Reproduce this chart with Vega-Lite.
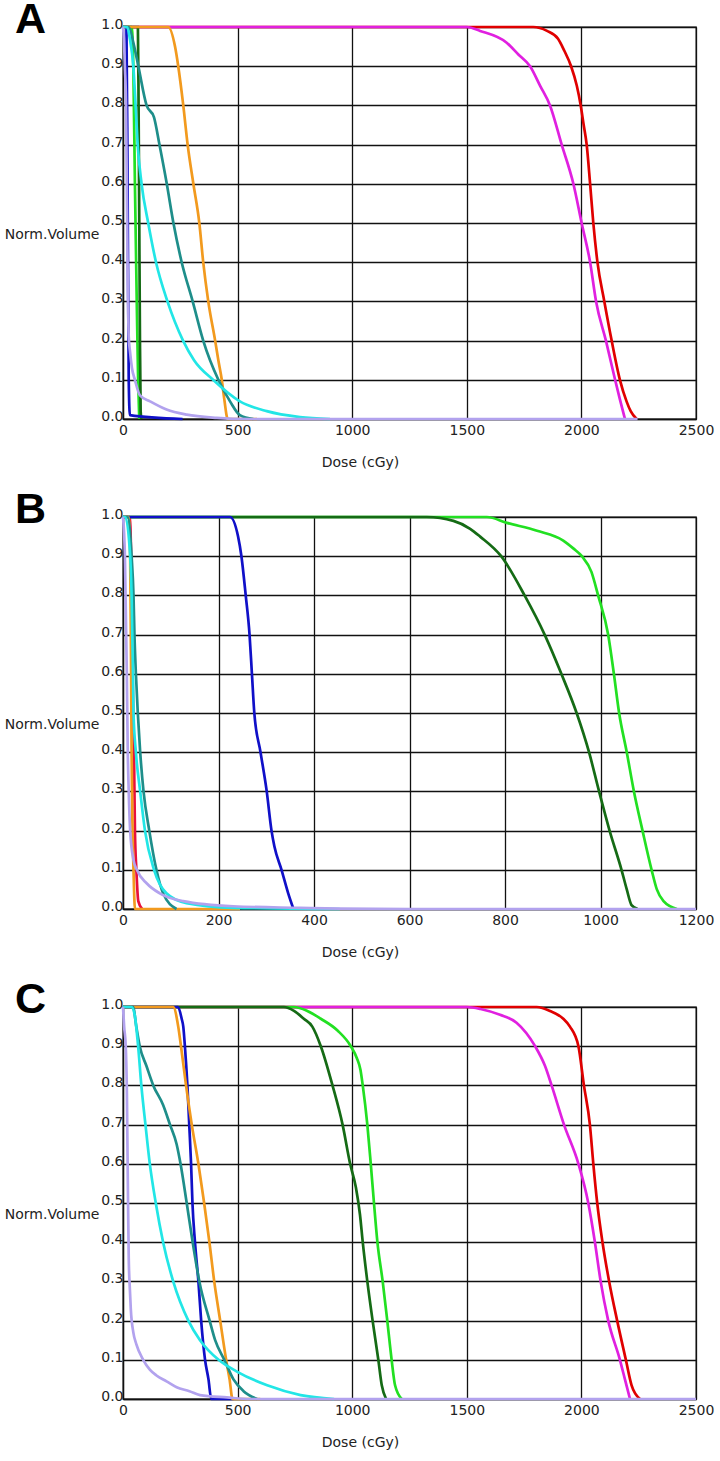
{
  "$schema": "https://vega.github.io/schema/vega-lite/v6.json",
  "background": "white",
  "padding": {"left": 3, "top": -3, "right": 4, "bottom": 4},
  "datasets": {
    "dvh": [
      {"panel":"A","structure":"red","dose":0,"volume":1},{"panel":"A","structure":"red","dose":1790,"volume":1},{"panel":"A","structure":"red","dose":1850,"volume":0.99},{"panel":"A","structure":"red","dose":1898,"volume":0.97},{"panel":"A","structure":"red","dose":1925,"volume":0.94},{"panel":"A","structure":"red","dose":1955,"volume":0.9},{"panel":"A","structure":"red","dose":1980,"volume":0.85},{"panel":"A","structure":"red","dose":1997,"volume":0.8},{"panel":"A","structure":"red","dose":2010,"volume":0.75},{"panel":"A","structure":"red","dose":2023,"volume":0.7},{"panel":"A","structure":"red","dose":2038,"volume":0.6},{"panel":"A","structure":"red","dose":2052,"volume":0.5},{"panel":"A","structure":"red","dose":2070,"volume":0.4},{"panel":"A","structure":"red","dose":2100,"volume":0.3},{"panel":"A","structure":"red","dose":2132,"volume":0.2},{"panel":"A","structure":"red","dose":2168,"volume":0.1},{"panel":"A","structure":"red","dose":2197,"volume":0.045},{"panel":"A","structure":"red","dose":2215,"volume":0.02},{"panel":"A","structure":"red","dose":2241,"volume":0},
      {"panel":"A","structure":"magenta","dose":0,"volume":1},{"panel":"A","structure":"magenta","dose":1500,"volume":1},{"panel":"A","structure":"magenta","dose":1558,"volume":0.99},{"panel":"A","structure":"magenta","dose":1674,"volume":0.96},{"panel":"A","structure":"magenta","dose":1725,"volume":0.93},{"panel":"A","structure":"magenta","dose":1776,"volume":0.9},{"panel":"A","structure":"magenta","dose":1820,"volume":0.85},{"panel":"A","structure":"magenta","dose":1863,"volume":0.8},{"panel":"A","structure":"magenta","dose":1914,"volume":0.7},{"panel":"A","structure":"magenta","dose":1965,"volume":0.6},{"panel":"A","structure":"magenta","dose":2001,"volume":0.5},{"panel":"A","structure":"magenta","dose":2038,"volume":0.4},{"panel":"A","structure":"magenta","dose":2064,"volume":0.3},{"panel":"A","structure":"magenta","dose":2107,"volume":0.2},{"panel":"A","structure":"magenta","dose":2147,"volume":0.1},{"panel":"A","structure":"magenta","dose":2168,"volume":0.05},{"panel":"A","structure":"magenta","dose":2190,"volume":0},
      {"panel":"A","structure":"lightgreen","dose":0,"volume":1},{"panel":"A","structure":"lightgreen","dose":38,"volume":1},{"panel":"A","structure":"lightgreen","dose":45,"volume":0.9},{"panel":"A","structure":"lightgreen","dose":52,"volume":0.6},{"panel":"A","structure":"lightgreen","dose":60,"volume":0.3},{"panel":"A","structure":"lightgreen","dose":66,"volume":0.1},{"panel":"A","structure":"lightgreen","dose":71,"volume":0},
      {"panel":"A","structure":"darkgreen","dose":0,"volume":1},{"panel":"A","structure":"darkgreen","dose":65,"volume":1},{"panel":"A","structure":"darkgreen","dose":68,"volume":0.8},{"panel":"A","structure":"darkgreen","dose":71,"volume":0.5},{"panel":"A","structure":"darkgreen","dose":74,"volume":0.2},{"panel":"A","structure":"darkgreen","dose":77,"volume":0.02},{"panel":"A","structure":"darkgreen","dose":80,"volume":0},
      {"panel":"A","structure":"blue","dose":0,"volume":1},{"panel":"A","structure":"blue","dose":15,"volume":1},{"panel":"A","structure":"blue","dose":20,"volume":0.6},{"panel":"A","structure":"blue","dose":25,"volume":0.1},{"panel":"A","structure":"blue","dose":30,"volume":0.01},{"panel":"A","structure":"blue","dose":260,"volume":0},
      {"panel":"A","structure":"orange","dose":0,"volume":1},{"panel":"A","structure":"orange","dose":197,"volume":1},{"panel":"A","structure":"orange","dose":227,"volume":0.95},{"panel":"A","structure":"orange","dose":241,"volume":0.9},{"panel":"A","structure":"orange","dose":263,"volume":0.8},{"panel":"A","structure":"orange","dose":282,"volume":0.7},{"panel":"A","structure":"orange","dose":307,"volume":0.6},{"panel":"A","structure":"orange","dose":333,"volume":0.5},{"panel":"A","structure":"orange","dose":350,"volume":0.4},{"panel":"A","structure":"orange","dose":372,"volume":0.3},{"panel":"A","structure":"orange","dose":402,"volume":0.2},{"panel":"A","structure":"orange","dose":416,"volume":0.15},{"panel":"A","structure":"orange","dose":431,"volume":0.1},{"panel":"A","structure":"orange","dose":442,"volume":0.05},{"panel":"A","structure":"orange","dose":457,"volume":0},{"panel":"A","structure":"orange","dose":585,"volume":0},
      {"panel":"A","structure":"teal","dose":0,"volume":1},{"panel":"A","structure":"teal","dose":25,"volume":1},{"panel":"A","structure":"teal","dose":45,"volume":0.96},{"panel":"A","structure":"teal","dose":67,"volume":0.9},{"panel":"A","structure":"teal","dose":103,"volume":0.8},{"panel":"A","structure":"teal","dose":135,"volume":0.77},{"panel":"A","structure":"teal","dose":159,"volume":0.7},{"panel":"A","structure":"teal","dose":191,"volume":0.6},{"panel":"A","structure":"teal","dose":220,"volume":0.5},{"panel":"A","structure":"teal","dose":256,"volume":0.4},{"panel":"A","structure":"teal","dose":304,"volume":0.3},{"panel":"A","structure":"teal","dose":350,"volume":0.2},{"panel":"A","structure":"teal","dose":416,"volume":0.1},{"panel":"A","structure":"teal","dose":467,"volume":0.045},{"panel":"A","structure":"teal","dose":510,"volume":0.01},{"panel":"A","structure":"teal","dose":569,"volume":0},
      {"panel":"A","structure":"cyan","dose":0,"volume":1},{"panel":"A","structure":"cyan","dose":18,"volume":1},{"panel":"A","structure":"cyan","dose":30,"volume":0.97},{"panel":"A","structure":"cyan","dose":45,"volume":0.9},{"panel":"A","structure":"cyan","dose":55,"volume":0.8},{"panel":"A","structure":"cyan","dose":64,"volume":0.7},{"panel":"A","structure":"cyan","dose":81,"volume":0.6},{"panel":"A","structure":"cyan","dose":110,"volume":0.5},{"panel":"A","structure":"cyan","dose":144,"volume":0.4},{"panel":"A","structure":"cyan","dose":194,"volume":0.3},{"panel":"A","structure":"cyan","dose":262,"volume":0.2},{"panel":"A","structure":"cyan","dose":310,"volume":0.15},{"panel":"A","structure":"cyan","dose":393,"volume":0.1},{"panel":"A","structure":"cyan","dose":510,"volume":0.045},{"panel":"A","structure":"cyan","dose":627,"volume":0.02},{"panel":"A","structure":"cyan","dose":772,"volume":0.005},{"panel":"A","structure":"cyan","dose":903,"volume":0},
      {"panel":"A","structure":"lavender","dose":0,"volume":1},{"panel":"A","structure":"lavender","dose":4,"volume":0.97},{"panel":"A","structure":"lavender","dose":8,"volume":0.9},{"panel":"A","structure":"lavender","dose":13,"volume":0.81},{"panel":"A","structure":"lavender","dose":16,"volume":0.64},{"panel":"A","structure":"lavender","dose":20,"volume":0.39},{"panel":"A","structure":"lavender","dose":25,"volume":0.21},{"panel":"A","structure":"lavender","dose":31,"volume":0.17},{"panel":"A","structure":"lavender","dose":39,"volume":0.13},{"panel":"A","structure":"lavender","dose":52,"volume":0.1},{"panel":"A","structure":"lavender","dose":74,"volume":0.06},{"panel":"A","structure":"lavender","dose":118,"volume":0.045},{"panel":"A","structure":"lavender","dose":190,"volume":0.024},{"panel":"A","structure":"lavender","dose":278,"volume":0.011},{"panel":"A","structure":"lavender","dose":409,"volume":0.003},{"panel":"A","structure":"lavender","dose":550,"volume":0},{"panel":"A","structure":"lavender","dose":2245,"volume":0},

      {"panel":"B","structure":"red","dose":0,"volume":1},{"panel":"B","structure":"red","dose":14,"volume":1},{"panel":"B","structure":"red","dose":17,"volume":0.9},{"panel":"B","structure":"red","dose":20,"volume":0.6},{"panel":"B","structure":"red","dose":23,"volume":0.4},{"panel":"B","structure":"red","dose":25,"volume":0.2},{"panel":"B","structure":"red","dose":28,"volume":0.1},{"panel":"B","structure":"red","dose":32,"volume":0.02},{"panel":"B","structure":"red","dose":40,"volume":0},
      {"panel":"B","structure":"lightgreen","dose":0,"volume":1},{"panel":"B","structure":"lightgreen","dose":762,"volume":1},{"panel":"B","structure":"lightgreen","dose":804,"volume":0.985},{"panel":"B","structure":"lightgreen","dose":867,"volume":0.965},{"panel":"B","structure":"lightgreen","dose":922,"volume":0.94},{"panel":"B","structure":"lightgreen","dose":943,"volume":0.92},{"panel":"B","structure":"lightgreen","dose":961,"volume":0.9},{"panel":"B","structure":"lightgreen","dose":981,"volume":0.86},{"panel":"B","structure":"lightgreen","dose":995,"volume":0.8},{"panel":"B","structure":"lightgreen","dose":1016,"volume":0.7},{"panel":"B","structure":"lightgreen","dose":1028,"volume":0.6},{"panel":"B","structure":"lightgreen","dose":1039,"volume":0.5},{"panel":"B","structure":"lightgreen","dose":1055,"volume":0.4},{"panel":"B","structure":"lightgreen","dose":1070,"volume":0.3},{"panel":"B","structure":"lightgreen","dose":1088,"volume":0.2},{"panel":"B","structure":"lightgreen","dose":1107,"volume":0.1},{"panel":"B","structure":"lightgreen","dose":1118,"volume":0.05},{"panel":"B","structure":"lightgreen","dose":1132,"volume":0.02},{"panel":"B","structure":"lightgreen","dose":1160,"volume":0},
      {"panel":"B","structure":"darkgreen","dose":0,"volume":1},{"panel":"B","structure":"darkgreen","dose":636,"volume":1},{"panel":"B","structure":"darkgreen","dose":692,"volume":0.99},{"panel":"B","structure":"darkgreen","dose":727,"volume":0.97},{"panel":"B","structure":"darkgreen","dose":748,"volume":0.95},{"panel":"B","structure":"darkgreen","dose":792,"volume":0.9},{"panel":"B","structure":"darkgreen","dose":841,"volume":0.8},{"panel":"B","structure":"darkgreen","dose":883,"volume":0.7},{"panel":"B","structure":"darkgreen","dose":918,"volume":0.6},{"panel":"B","structure":"darkgreen","dose":950,"volume":0.5},{"panel":"B","structure":"darkgreen","dose":976,"volume":0.4},{"panel":"B","structure":"darkgreen","dose":997,"volume":0.3},{"panel":"B","structure":"darkgreen","dose":1019,"volume":0.2},{"panel":"B","structure":"darkgreen","dose":1044,"volume":0.1},{"panel":"B","structure":"darkgreen","dose":1055,"volume":0.05},{"panel":"B","structure":"darkgreen","dose":1065,"volume":0.01},{"panel":"B","structure":"darkgreen","dose":1078,"volume":0},
      {"panel":"B","structure":"blue","dose":0,"volume":1},{"panel":"B","structure":"blue","dose":224,"volume":1},{"panel":"B","structure":"blue","dose":241,"volume":0.95},{"panel":"B","structure":"blue","dose":248,"volume":0.9},{"panel":"B","structure":"blue","dose":257,"volume":0.8},{"panel":"B","structure":"blue","dose":265,"volume":0.7},{"panel":"B","structure":"blue","dose":270,"volume":0.6},{"panel":"B","structure":"blue","dose":275,"volume":0.5},{"panel":"B","structure":"blue","dose":288,"volume":0.4},{"panel":"B","structure":"blue","dose":301,"volume":0.3},{"panel":"B","structure":"blue","dose":311,"volume":0.2},{"panel":"B","structure":"blue","dose":317,"volume":0.16},{"panel":"B","structure":"blue","dose":332,"volume":0.1},{"panel":"B","structure":"blue","dose":346,"volume":0.04},{"panel":"B","structure":"blue","dose":357,"volume":0},
      {"panel":"B","structure":"orange","dose":0,"volume":1},{"panel":"B","structure":"orange","dose":12,"volume":1},{"panel":"B","structure":"orange","dose":15,"volume":0.9},{"panel":"B","structure":"orange","dose":17,"volume":0.6},{"panel":"B","structure":"orange","dose":18,"volume":0.4},{"panel":"B","structure":"orange","dose":20,"volume":0.2},{"panel":"B","structure":"orange","dose":22,"volume":0.1},{"panel":"B","structure":"orange","dose":25,"volume":0},{"panel":"B","structure":"orange","dose":245,"volume":0},
      {"panel":"B","structure":"teal","dose":0,"volume":1},{"panel":"B","structure":"teal","dose":10,"volume":1},{"panel":"B","structure":"teal","dose":18,"volume":0.9},{"panel":"B","structure":"teal","dose":22,"volume":0.8},{"panel":"B","structure":"teal","dose":24,"volume":0.7},{"panel":"B","structure":"teal","dose":27,"volume":0.6},{"panel":"B","structure":"teal","dose":31,"volume":0.5},{"panel":"B","structure":"teal","dose":36,"volume":0.4},{"panel":"B","structure":"teal","dose":43,"volume":0.3},{"panel":"B","structure":"teal","dose":55,"volume":0.2},{"panel":"B","structure":"teal","dose":70,"volume":0.1},{"panel":"B","structure":"teal","dose":84,"volume":0.04},{"panel":"B","structure":"teal","dose":112,"volume":0},
      {"panel":"B","structure":"cyan","dose":0,"volume":1},{"panel":"B","structure":"cyan","dose":5,"volume":1},{"panel":"B","structure":"cyan","dose":15,"volume":0.9},{"panel":"B","structure":"cyan","dose":18,"volume":0.8},{"panel":"B","structure":"cyan","dose":21,"volume":0.6},{"panel":"B","structure":"cyan","dose":22,"volume":0.5},{"panel":"B","structure":"cyan","dose":27,"volume":0.4},{"panel":"B","structure":"cyan","dose":36,"volume":0.3},{"panel":"B","structure":"cyan","dose":46,"volume":0.2},{"panel":"B","structure":"cyan","dose":65,"volume":0.1},{"panel":"B","structure":"cyan","dose":91,"volume":0.04},{"panel":"B","structure":"cyan","dose":133,"volume":0.015},{"panel":"B","structure":"cyan","dose":231,"volume":0.003},{"panel":"B","structure":"cyan","dose":454,"volume":0},
      {"panel":"B","structure":"lavender","dose":0,"volume":1},{"panel":"B","structure":"lavender","dose":4,"volume":0.9},{"panel":"B","structure":"lavender","dose":8,"volume":0.6},{"panel":"B","structure":"lavender","dose":10,"volume":0.4},{"panel":"B","structure":"lavender","dose":12,"volume":0.3},{"panel":"B","structure":"lavender","dose":15,"volume":0.2},{"panel":"B","structure":"lavender","dose":22,"volume":0.125},{"panel":"B","structure":"lavender","dose":29,"volume":0.1},{"panel":"B","structure":"lavender","dose":50,"volume":0.065},{"panel":"B","structure":"lavender","dose":77,"volume":0.04},{"panel":"B","structure":"lavender","dose":126,"volume":0.02},{"panel":"B","structure":"lavender","dose":231,"volume":0.007},{"panel":"B","structure":"lavender","dose":371,"volume":0.003},{"panel":"B","structure":"lavender","dose":454,"volume":0.001},{"panel":"B","structure":"lavender","dose":600,"volume":0},{"panel":"B","structure":"lavender","dose":1200,"volume":0},

      {"panel":"C","structure":"red","dose":0,"volume":1},{"panel":"C","structure":"red","dose":1805,"volume":1},{"panel":"C","structure":"red","dose":1863,"volume":0.99},{"panel":"C","structure":"red","dose":1921,"volume":0.97},{"panel":"C","structure":"red","dose":1950,"volume":0.95},{"panel":"C","structure":"red","dose":1987,"volume":0.9},{"panel":"C","structure":"red","dose":2011,"volume":0.8},{"panel":"C","structure":"red","dose":2037,"volume":0.7},{"panel":"C","structure":"red","dose":2052,"volume":0.6},{"panel":"C","structure":"red","dose":2069,"volume":0.5},{"panel":"C","structure":"red","dose":2092,"volume":0.4},{"panel":"C","structure":"red","dose":2121,"volume":0.3},{"panel":"C","structure":"red","dose":2156,"volume":0.2},{"panel":"C","structure":"red","dose":2194,"volume":0.1},{"panel":"C","structure":"red","dose":2219,"volume":0.035},{"panel":"C","structure":"red","dose":2256,"volume":0},
      {"panel":"C","structure":"magenta","dose":0,"volume":1},{"panel":"C","structure":"magenta","dose":1500,"volume":1},{"panel":"C","structure":"magenta","dose":1560,"volume":0.995},{"panel":"C","structure":"magenta","dose":1645,"volume":0.98},{"panel":"C","structure":"magenta","dose":1717,"volume":0.96},{"panel":"C","structure":"magenta","dose":1798,"volume":0.9},{"panel":"C","structure":"magenta","dose":1841,"volume":0.85},{"panel":"C","structure":"magenta","dose":1870,"volume":0.8},{"panel":"C","structure":"magenta","dose":1924,"volume":0.7},{"panel":"C","structure":"magenta","dose":1987,"volume":0.6},{"panel":"C","structure":"magenta","dose":2030,"volume":0.5},{"panel":"C","structure":"magenta","dose":2059,"volume":0.4},{"panel":"C","structure":"magenta","dose":2084,"volume":0.3},{"panel":"C","structure":"magenta","dose":2117,"volume":0.2},{"panel":"C","structure":"magenta","dose":2168,"volume":0.1},{"panel":"C","structure":"magenta","dose":2190,"volume":0.05},{"panel":"C","structure":"magenta","dose":2212,"volume":0},
      {"panel":"C","structure":"lightgreen","dose":0,"volume":1},{"panel":"C","structure":"lightgreen","dose":746,"volume":1},{"panel":"C","structure":"lightgreen","dose":804,"volume":0.99},{"panel":"C","structure":"lightgreen","dose":863,"volume":0.97},{"panel":"C","structure":"lightgreen","dose":936,"volume":0.94},{"panel":"C","structure":"lightgreen","dose":994,"volume":0.9},{"panel":"C","structure":"lightgreen","dose":1020,"volume":0.87},{"panel":"C","structure":"lightgreen","dose":1036,"volume":0.84},{"panel":"C","structure":"lightgreen","dose":1046,"volume":0.8},{"panel":"C","structure":"lightgreen","dose":1066,"volume":0.7},{"panel":"C","structure":"lightgreen","dose":1081,"volume":0.6},{"panel":"C","structure":"lightgreen","dose":1095,"volume":0.5},{"panel":"C","structure":"lightgreen","dose":1110,"volume":0.4},{"panel":"C","structure":"lightgreen","dose":1133,"volume":0.3},{"panel":"C","structure":"lightgreen","dose":1153,"volume":0.2},{"panel":"C","structure":"lightgreen","dose":1172,"volume":0.1},{"panel":"C","structure":"lightgreen","dose":1187,"volume":0.035},{"panel":"C","structure":"lightgreen","dose":1216,"volume":0},
      {"panel":"C","structure":"darkgreen","dose":0,"volume":1},{"panel":"C","structure":"darkgreen","dose":702,"volume":1},{"panel":"C","structure":"darkgreen","dose":746,"volume":0.99},{"panel":"C","structure":"darkgreen","dose":789,"volume":0.97},{"panel":"C","structure":"darkgreen","dose":826,"volume":0.95},{"panel":"C","structure":"darkgreen","dose":863,"volume":0.9},{"panel":"C","structure":"darkgreen","dose":914,"volume":0.8},{"panel":"C","structure":"darkgreen","dose":958,"volume":0.7},{"panel":"C","structure":"darkgreen","dose":991,"volume":0.6},{"panel":"C","structure":"darkgreen","dose":1016,"volume":0.54},{"panel":"C","structure":"darkgreen","dose":1034,"volume":0.47},{"panel":"C","structure":"darkgreen","dose":1046,"volume":0.4},{"panel":"C","structure":"darkgreen","dose":1066,"volume":0.3},{"panel":"C","structure":"darkgreen","dose":1089,"volume":0.2},{"panel":"C","structure":"darkgreen","dose":1114,"volume":0.1},{"panel":"C","structure":"darkgreen","dose":1129,"volume":0.035},{"panel":"C","structure":"darkgreen","dose":1148,"volume":0},
      {"panel":"C","structure":"blue","dose":0,"volume":1},{"panel":"C","structure":"blue","dose":240,"volume":1},{"panel":"C","structure":"blue","dose":256,"volume":0.97},{"panel":"C","structure":"blue","dose":263,"volume":0.95},{"panel":"C","structure":"blue","dose":270,"volume":0.9},{"panel":"C","structure":"blue","dose":281,"volume":0.8},{"panel":"C","structure":"blue","dose":289,"volume":0.7},{"panel":"C","structure":"blue","dose":297,"volume":0.6},{"panel":"C","structure":"blue","dose":303,"volume":0.5},{"panel":"C","structure":"blue","dose":314,"volume":0.4},{"panel":"C","structure":"blue","dose":329,"volume":0.3},{"panel":"C","structure":"blue","dose":341,"volume":0.2},{"panel":"C","structure":"blue","dose":358,"volume":0.1},{"panel":"C","structure":"blue","dose":373,"volume":0.05},{"panel":"C","structure":"blue","dose":385,"volume":0},{"panel":"C","structure":"blue","dose":482,"volume":0},
      {"panel":"C","structure":"orange","dose":0,"volume":1},{"panel":"C","structure":"orange","dose":219,"volume":1},{"panel":"C","structure":"orange","dose":241,"volume":0.95},{"panel":"C","structure":"orange","dose":253,"volume":0.9},{"panel":"C","structure":"orange","dose":275,"volume":0.8},{"panel":"C","structure":"orange","dose":300,"volume":0.7},{"panel":"C","structure":"orange","dose":329,"volume":0.6},{"panel":"C","structure":"orange","dose":354,"volume":0.5},{"panel":"C","structure":"orange","dose":377,"volume":0.4},{"panel":"C","structure":"orange","dose":398,"volume":0.3},{"panel":"C","structure":"orange","dose":424,"volume":0.2},{"panel":"C","structure":"orange","dose":450,"volume":0.1},{"panel":"C","structure":"orange","dose":465,"volume":0.05},{"panel":"C","structure":"orange","dose":478,"volume":0},{"panel":"C","structure":"orange","dose":599,"volume":0},
      {"panel":"C","structure":"teal","dose":0,"volume":1},{"panel":"C","structure":"teal","dose":44,"volume":1},{"panel":"C","structure":"teal","dose":58,"volume":0.95},{"panel":"C","structure":"teal","dose":73,"volume":0.9},{"panel":"C","structure":"teal","dose":102,"volume":0.85},{"panel":"C","structure":"teal","dose":132,"volume":0.8},{"panel":"C","structure":"teal","dose":175,"volume":0.75},{"panel":"C","structure":"teal","dose":205,"volume":0.7},{"panel":"C","structure":"teal","dose":234,"volume":0.65},{"panel":"C","structure":"teal","dose":251,"volume":0.6},{"panel":"C","structure":"teal","dose":278,"volume":0.5},{"panel":"C","structure":"teal","dose":304,"volume":0.4},{"panel":"C","structure":"teal","dose":333,"volume":0.3},{"panel":"C","structure":"teal","dose":378,"volume":0.2},{"panel":"C","structure":"teal","dose":402,"volume":0.15},{"panel":"C","structure":"teal","dose":442,"volume":0.1},{"panel":"C","structure":"teal","dose":482,"volume":0.05},{"panel":"C","structure":"teal","dose":526,"volume":0.02},{"panel":"C","structure":"teal","dose":585,"volume":0},
      {"panel":"C","structure":"cyan","dose":0,"volume":1},{"panel":"C","structure":"cyan","dose":37,"volume":1},{"panel":"C","structure":"cyan","dose":51,"volume":0.98},{"panel":"C","structure":"cyan","dose":66,"volume":0.9},{"panel":"C","structure":"cyan","dose":80,"volume":0.8},{"panel":"C","structure":"cyan","dose":98,"volume":0.7},{"panel":"C","structure":"cyan","dose":117,"volume":0.6},{"panel":"C","structure":"cyan","dose":143,"volume":0.5},{"panel":"C","structure":"cyan","dose":175,"volume":0.4},{"panel":"C","structure":"cyan","dose":219,"volume":0.3},{"panel":"C","structure":"cyan","dose":285,"volume":0.2},{"panel":"C","structure":"cyan","dose":336,"volume":0.15},{"panel":"C","structure":"cyan","dose":417,"volume":0.1},{"panel":"C","structure":"cyan","dose":497,"volume":0.07},{"panel":"C","structure":"cyan","dose":629,"volume":0.035},{"panel":"C","structure":"cyan","dose":775,"volume":0.01},{"panel":"C","structure":"cyan","dose":921,"volume":0},
      {"panel":"C","structure":"lavender","dose":0,"volume":1},{"panel":"C","structure":"lavender","dose":5,"volume":0.95},{"panel":"C","structure":"lavender","dose":12,"volume":0.9},{"panel":"C","structure":"lavender","dose":17,"volume":0.78},{"panel":"C","structure":"lavender","dose":22,"volume":0.5},{"panel":"C","structure":"lavender","dose":25,"volume":0.36},{"panel":"C","structure":"lavender","dose":30,"volume":0.28},{"panel":"C","structure":"lavender","dose":34,"volume":0.23},{"panel":"C","structure":"lavender","dose":45,"volume":0.17},{"panel":"C","structure":"lavender","dose":58,"volume":0.14},{"panel":"C","structure":"lavender","dose":88,"volume":0.1},{"panel":"C","structure":"lavender","dose":117,"volume":0.075},{"panel":"C","structure":"lavender","dose":146,"volume":0.06},{"panel":"C","structure":"lavender","dose":190,"volume":0.045},{"panel":"C","structure":"lavender","dose":234,"volume":0.03},{"panel":"C","structure":"lavender","dose":290,"volume":0.02},{"panel":"C","structure":"lavender","dose":336,"volume":0.01},{"panel":"C","structure":"lavender","dose":453,"volume":0.004},{"panel":"C","structure":"lavender","dose":556,"volume":0},{"panel":"C","structure":"lavender","dose":2500,"volume":0}
    ]
  },
  "data": {"name": "dvh"},
  "bounds": "flush",
  "spacing": 98,
  "vconcat": [
    {
      "title": {"text": "A"},
      "width": 573,
      "height": 392,
      "transform": [{"filter": "datum.panel === 'A'"}],
      "mark": {"type": "line", "strokeWidth": 2.7, "interpolate": "monotone"},
      "encoding": {
        "x": {"field": "dose", "type": "quantitative", "scale": {"domain": [0, 2500], "nice": false}, "axis": {"values": [0, 500, 1000, 1500, 2000, 2500], "format": "d", "title": "Dose (cGy)"}},
        "y": {"field": "volume", "type": "quantitative", "scale": {"domain": [0, 1], "nice": false}, "axis": {"values": [0, 0.1, 0.2, 0.3, 0.4, 0.5, 0.6, 0.7, 0.8, 0.9, 1], "format": ".1f", "title": "Norm.Volume"}},
        "color": {"field": "structure", "type": "nominal", "scale": {"domain": ["red", "magenta", "lightgreen", "darkgreen", "blue", "orange", "teal", "cyan", "lavender"], "range": ["#e00000", "#e020e0", "#22e022", "#156b15", "#1010c8", "#f29a1e", "#1e8e8a", "#22e6e6", "#b2a2ee"]}, "legend": null}
      }
    },
    {
      "title": {"text": "B"},
      "width": 573,
      "height": 392,
      "transform": [{"filter": "datum.panel === 'B'"}],
      "mark": {"type": "line", "strokeWidth": 2.7, "interpolate": "monotone"},
      "encoding": {
        "x": {"field": "dose", "type": "quantitative", "scale": {"domain": [0, 1200], "nice": false}, "axis": {"values": [0, 200, 400, 600, 800, 1000, 1200], "format": "d", "title": "Dose (cGy)"}},
        "y": {"field": "volume", "type": "quantitative", "scale": {"domain": [0, 1], "nice": false}, "axis": {"values": [0, 0.1, 0.2, 0.3, 0.4, 0.5, 0.6, 0.7, 0.8, 0.9, 1], "format": ".1f", "title": "Norm.Volume"}},
        "color": {"field": "structure", "type": "nominal", "scale": {"domain": ["red", "magenta", "lightgreen", "darkgreen", "blue", "orange", "teal", "cyan", "lavender"], "range": ["#e8103c", "#e020e0", "#22e022", "#156b15", "#1010c8", "#f29a1e", "#1e8e8a", "#22e6e6", "#b2a2ee"]}, "legend": null}
      }
    },
    {
      "title": {"text": "C"},
      "width": 573,
      "height": 392,
      "transform": [{"filter": "datum.panel === 'C'"}],
      "mark": {"type": "line", "strokeWidth": 2.7, "interpolate": "monotone"},
      "encoding": {
        "x": {"field": "dose", "type": "quantitative", "scale": {"domain": [0, 2500], "nice": false}, "axis": {"values": [0, 500, 1000, 1500, 2000, 2500], "format": "d", "title": "Dose (cGy)"}},
        "y": {"field": "volume", "type": "quantitative", "scale": {"domain": [0, 1], "nice": false}, "axis": {"values": [0, 0.1, 0.2, 0.3, 0.4, 0.5, 0.6, 0.7, 0.8, 0.9, 1], "format": ".1f", "title": "Norm.Volume"}},
        "color": {"field": "structure", "type": "nominal", "scale": {"domain": ["red", "magenta", "lightgreen", "darkgreen", "blue", "orange", "teal", "cyan", "lavender"], "range": ["#e00000", "#e020e0", "#22e022", "#156b15", "#1010c8", "#f29a1e", "#1e8e8a", "#22e6e6", "#b2a2ee"]}, "legend": null}
      }
    }
  ],
  "resolve": {"scale": {"color": "independent"}},
  "config": {
    "view": {"stroke": "#111111", "strokeWidth": 1.3},
    "axis": {
      "grid": true,
      "gridColor": "#111111",
      "gridWidth": 1.3,
      "gridOpacity": 1,
      "domainColor": "#111111",
      "domainWidth": 1.3,
      "ticks": false,
      "labelFont": "DejaVu Sans",
      "labelFontSize": 14,
      "labelColor": "#222222",
      "labelFlush": false,
      "labelOverlap": false,
      "titleFont": "DejaVu Sans",
      "titleFontSize": 14,
      "titleFontWeight": "normal",
      "titleColor": "#222222"
    },
    "axisX": {"labelPadding": 4, "labelBaseline": "top", "titleX": 237, "titleY": 43, "titleBaseline": "middle", "titleAlign": "center"},
    "axisY": {"labelPadding": 0, "labelBaseline": "alphabetic", "labelOffset": 1.5, "titleAngle": 0, "titleAlign": "right", "titleX": -24, "titleY": 211, "titleBaseline": "alphabetic"},
    "title": {"anchor": "start", "frame": "group", "font": "Liberation Sans", "fontSize": 43, "fontWeight": "bold", "color": "#000000", "dx": -108, "dy": 28, "offset": 0, "baseline": "alphabetic"}
  }
}
